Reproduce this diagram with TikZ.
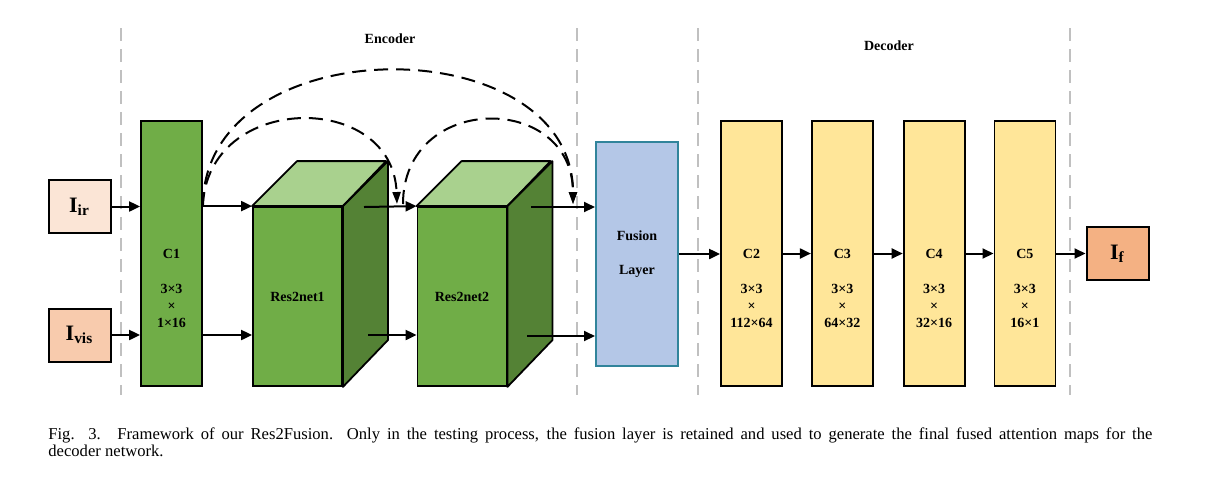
\documentclass[tikz,border=0pt]{standalone}
\usepackage{fontspec}
\setmainfont{Liberation Serif}
\usetikzlibrary{arrows.meta,positioning,calc}

\definecolor{convgreen}{HTML}{70AD47}
\definecolor{sidegreen}{HTML}{548235}
\definecolor{topgreen}{HTML}{A9D18E}
\definecolor{fusionblue}{HTML}{B4C7E7}
\definecolor{fusionedge}{HTML}{31849B}
\definecolor{decyellow}{HTML}{FFE699}
\definecolor{irfill}{HTML}{FBE5D6}
\definecolor{visfill}{HTML}{F8CBAD}
\definecolor{ffill}{HTML}{F4B183}
\definecolor{sepgray}{HTML}{C0C0C0}

\begin{document}
\begin{tikzpicture}[
    x=0.5pt, y=-0.5pt,
    font=\bfseries\fontsize{7}{8.5}\selectfont,
    conv/.style={rectangle, draw=black, line width=0.9pt, minimum width=30.5pt, minimum height=132.5pt, inner sep=0pt},
    resfront/.style={rectangle, draw=black, line width=0.9pt, fill=convgreen, minimum width=44.5pt, minimum height=89.5pt, inner sep=0pt},
    face/.style={draw=black, line width=0.9pt, line join=round},
    fusion/.style={rectangle, draw=fusionedge, line width=1pt, fill=fusionblue, minimum width=41pt, minimum height=112pt, align=center, inner sep=0pt},
    img/.style={rectangle, draw=black, line width=1pt, minimum width=31pt, minimum height=26.5pt, inner sep=0pt, font=\bfseries\fontsize{11}{13}\selectfont},
    dims/.style={align=center, font=\bfseries\fontsize{7}{8.5}\selectfont, inner sep=0pt},
    arrow/.style={-{Triangle[length=5.5pt,width=5pt]}, line width=1pt},
    skip/.style={-{Triangle[length=6pt,width=4pt]}, line width=1pt, dash pattern=on 7pt off 4pt},
    sep/.style={draw=sepgray, line width=1pt, dash pattern=on 6.5pt off 4pt},
    caption/.style={anchor=north west, text width=552pt, align=justify, inner sep=0pt, font=\mdseries\fontsize{8.3}{8.9}\selectfont}
]
    \useasboundingbox (0,0) rectangle (1225,484);

    % stage separators
    \foreach \sx in {121,577,698,1070}
        \draw[sep] (\sx,28) -- (\sx,395);

    \node (enc) at (390,39) {Encoder};
    \node (dec) at (889,46) {Decoder};

    % inputs
    \node[img, fill=irfill] (Iir) at (79.5,206.5) {I\textsubscript{ir}};
    \node[img, fill=visfill] (Ivis) at (79.5,335) {I\textsubscript{vis}};

    % encoder
    \node[conv, fill=convgreen] (C1) at (171.5,253.5) {C1};

    \foreach \r/\px/\lbl in {R1/297.5/Res2net1, R2/462/Res2net2} {
        \node[resfront] (\r) at (\px,296.5) {\lbl};
        \draw[face, fill=topgreen] (\r.north west) -- ++(45,-45) -- ++(89,0) -- (\r.north east) -- cycle;
        \draw[face, fill=sidegreen] (\r.north east) -- ++(45,-45) -- ++(0,179) -- (\r.south east) -- cycle;
    }

    \node[fusion] (FL) at (637,254) {Fusion\\[8.5pt]Layer};

    % decoder
    \node[conv, fill=decyellow] (C2) at (751.5,253.5) {C2};
    \node[conv, fill=decyellow, right=14pt of C2] (C3) {C3};
    \node[conv, fill=decyellow, right=14.5pt of C3] (C4) {C4};
    \node[conv, fill=decyellow, right=14pt of C4] (C5) {C5};

    \foreach \c/\d in {C1/1×16, C2/112×64, C3/64×32, C4/32×16, C5/16×1}
        \node[dims] at ([yshift=-26pt]\c.center) {3×3\\×\\\d};

    \node[img, fill=ffill] (If) at (1117.5,253.5) {I\textsubscript{f}};

    % connections
    \draw[arrow] (Iir.east) -- (Iir.east -| C1.west);
    \draw[arrow] (Ivis.east) -- (Ivis.east -| C1.west);
    \draw[arrow] (R1.north west -| C1.east) -- (R1.north west);
    \draw[arrow] (Ivis.east -| C1.east) -- (Ivis.east -| R1.west);

    \coordinate (R1t) at (364,207);
    \coordinate (R1b) at (368,335);
    \coordinate (R2t) at (531,207);
    \coordinate (R2b) at (527,336);
    \draw[arrow] (R1t) -- (R2.north west);
    \draw[arrow] (R1b) -- (R1b -| R2.west);
    \draw[arrow] (R2t) -- (R2t -| FL.west);
    \draw[arrow] (R2b) -- (R2b -| FL.west);

    \draw[arrow] (FL.east) -- (FL.east -| C2.west);
    \draw[arrow] (C2) -- (C3);
    \draw[arrow] (C3) -- (C4);
    \draw[arrow] (C4) -- (C5);
    \draw[arrow] (C5) -- (If);

    % dense skip connections
    \coordinate (skipS) at (R1.north west -| C1.east);
    \coordinate (skipE1) at (397,204);
    \coordinate (skipS2) at (403,204);
    \coordinate (skipE2) at (573,204);
    \draw[skip] (skipS) .. controls +(4,-114) and +(-4,-114) .. (skipE1);
    \draw[skip] (skipS) .. controls +(0,-180) and +(0,-178) .. (skipE2);
    \draw[skip] (skipS2) .. controls +(0,-112) and +(0,-112) .. (skipE2);

    \node[caption] (cap) at (48,427) {Fig. 3.\quad Framework of our Res2Fusion. Only in the testing process, the fusion layer is retained and used to generate the final fused attention maps for the\linebreak decoder network.};
\end{tikzpicture}
\end{document}
